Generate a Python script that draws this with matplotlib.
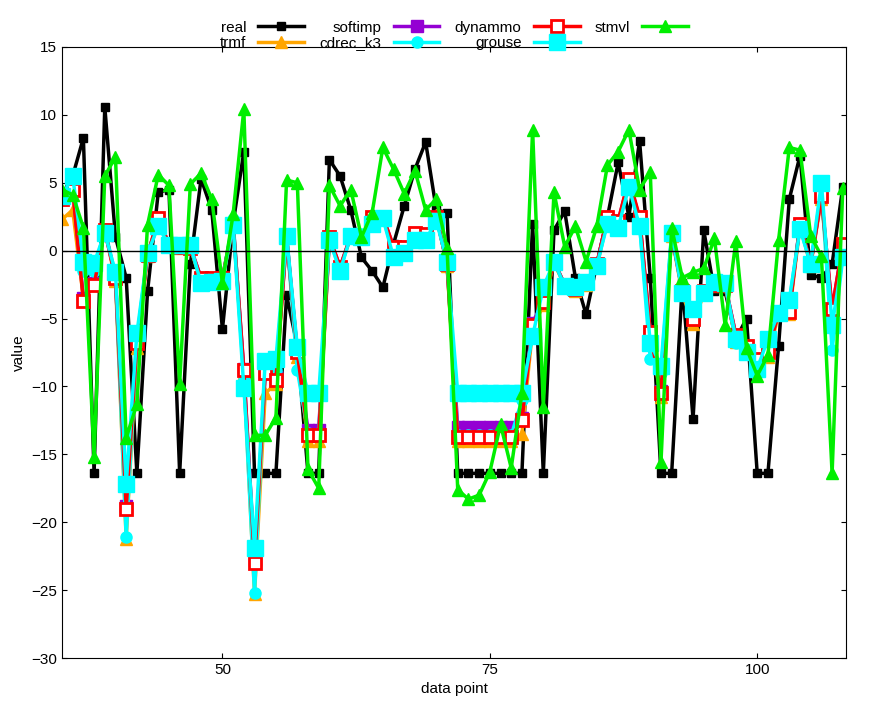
import numpy as np
import matplotlib.pyplot as plt

plt.rcParams['font.family'] = ['Liberation Sans', 'DejaVu Sans']

x = np.arange(35, 109)

real = [4.1, 5.5, 8.3, -16.4, 10.6, 1.0, -2.0, -16.4, -3.0, 4.3,
        4.5, -16.4, -1.0, 5.3, 3.0, -5.8, 2.0, 7.3, -16.4, -16.4,
        -16.4, -3.3, -7.0, -16.4, -16.4, 6.7, 5.5, 3.0, -0.5, -1.5,
        -2.7, 0.5, 3.3, 6.0, 8.0, 3.0, 2.8, -16.4, -16.4, -16.4,
        -16.4, -16.4, -16.4, -16.4, 2.0, -16.4, 1.5, 2.9, -2.0, -4.7,
        -1.0, 2.5, 6.5, 2.5, 8.1, -2.0, -16.4, -16.4, -2.4, -12.4,
        1.5, -3.0, -3.0, -6.5, -5.0, -16.4, -16.4, -7.0, 3.8, 7.0,
        -1.8, -2.0, -1.0, 4.7]

trmf = [2.3, 3.0, -3.5, -2.3, 1.5, -2.2, -21.2, -7.2, -0.4, 2.2,
        0.4, 0.2, 0.2, -2.3, -2.1, -2.1, 1.8, -9.0, -25.3, -10.5,
        -9.8, 1.0, -7.8, -14.0, -14.0, 0.9, -1.3, 1.0, 0.9, 2.3,
        2.4, 0.2, 0.2, 1.2, 1.1, 2.6, -1.1, -14.0, -14.0, -14.0,
        -14.0, -14.0, -14.0, -13.5, -5.8, -4.0, -0.9, -2.6, -3.0, -2.5,
        -1.2, 2.3, 2.0, 5.0, 2.3, -6.3, -10.8, 1.1, -3.2, -5.4,
        -3.2, -2.6, -2.6, -6.7, -7.3, -8.3, -7.8, -4.7, -4.7, 1.8,
        -1.1, 3.8, -4.6, 0.4]

softimp = [3.8, 4.6, -3.5, -2.4, 1.5, -2.0, -18.8, -6.7, -0.3, 2.3,
           0.5, 0.3, 0.3, -2.0, -2.0, -2.0, 2.0, -8.7, -22.8, -9.0,
           -9.3, 1.0, -7.4, -13.2, -13.2, 1.0, -1.2, 1.1, 1.0, 2.4,
           2.5, 0.3, 0.3, 1.3, 1.2, 2.5, -1.0, -13.0, -13.0, -13.0,
           -13.0, -13.0, -13.0, -12.3, -5.3, -3.7, -0.8, -2.5, -2.8, -2.3,
           -1.0, 2.5, 2.2, 5.2, 2.4, -6.0, -10.3, 1.2, -3.0, -5.0,
           -3.0, -2.5, -2.5, -6.2, -7.0, -8.0, -7.4, -4.5, -4.4, 2.0,
           -1.0, 4.0, -4.3, 0.5]

cdrec_k3 = [4.0, 5.3, -1.5, -1.5, 1.6, -1.8, -21.1, -6.5, -0.2, 2.1,
            0.4, 0.3, 0.3, -2.3, -2.2, -2.1, 2.3, -9.5, -25.2, -8.5,
            -8.8, 1.2, -8.8, -13.4, -13.4, 0.8, -1.4, 1.1, 1.2, 2.2,
            2.5, -0.3, 0.0, 1.0, 1.0, 2.4, -0.9, -13.6, -13.6, -13.6,
            -13.6, -13.6, -13.6, -11.0, -6.0, -3.0, -0.8, -2.6, -2.7, -2.3,
            -1.1, 2.2, 1.9, 5.2, 2.0, -8.0, -9.0, 1.3, -3.1, -4.6,
            -3.1, -2.4, -2.4, -6.8, -7.6, -8.8, -6.8, -4.6, -3.8, 1.8,
            -1.0, 4.6, -7.3, -0.5]

dynammo = [3.8, 4.5, -3.7, -2.5, 1.5, -2.0, -19.0, -6.8, -0.3, 2.4,
           0.5, 0.3, 0.2, -2.0, -2.0, -2.0, 2.0, -8.8, -23.0, -9.0,
           -9.5, 1.0, -7.5, -13.6, -13.6, 1.0, -1.2, 1.1, 1.0, 2.5,
           2.5, 0.3, 0.3, 1.3, 1.2, 2.5, -1.0, -13.7, -13.7, -13.7,
           -13.7, -13.7, -13.7, -12.5, -5.5, -3.8, -0.8, -2.5, -2.8, -2.3,
           -1.0, 2.5, 2.2, 5.3, 2.5, -6.0, -10.5, 1.2, -3.0, -5.0,
           -3.0, -2.5, -2.5, -6.2, -7.0, -8.0, -7.5, -4.5, -4.5, 2.0,
           -1.0, 4.0, -4.3, 0.5]

grouse = [4.0, 5.5, -0.8, -0.9, 1.3, -1.6, -17.2, -6.1, -0.2, 1.8,
          0.4, 0.4, 0.4, -2.4, -2.3, -2.2, 1.9, -10.1, -21.9, -8.1,
          -8.0, 1.1, -7.1, -10.5, -10.5, 0.8, -1.5, 1.1, 1.0, 2.0,
          2.4, -0.5, -0.2, 0.8, 0.8, 2.2, -0.8, -10.5, -10.5, -10.5,
          -10.5, -10.5, -10.5, -10.5, -6.3, -2.7, -0.8, -2.6, -2.7, -2.3,
          -1.1, 2.0, 1.7, 4.7, 1.8, -6.8, -8.5, 1.3, -3.1, -4.3,
          -3.1, -2.3, -2.4, -6.5, -7.5, -8.7, -6.5, -4.6, -3.6, 1.6,
          -1.0, 5.0, -5.5, -0.5]

stmvl = [4.5, 4.1, 1.7, -15.2, 5.5, 6.9, -13.8, -11.3, 1.9, 5.6,
         4.8, -9.8, 4.9, 5.7, 3.8, -2.4, 2.7, 10.4, -13.6, -13.6,
         -12.3, 5.2, 5.0, -16.1, -17.5, 4.8, 3.3, 4.5, 1.0, 2.8,
         7.6, 6.0, 4.2, 5.9, 3.0, 3.8, 0.2, -17.6, -18.3, -18.0,
         -16.3, -12.8, -16.0, -10.5, 8.9, -11.5, 4.3, 0.3, 1.8, -0.8,
         1.8, 6.3, 7.3, 8.9, 4.5, 5.8, -15.6, 1.7, -2.0, -1.6,
         -1.3, 0.9, -5.5, 0.7, -7.2, -9.2, -7.7, 0.8, 7.6, 7.4,
         1.1, -0.4, -16.4, 4.6]

series = [
    ('real', real, 'black', 's', 6, 'full'),
    ('trmf', trmf, 'orange', '^', 8, 'full'),
    ('softimp', softimp, '#9400d3', 's', 8, 'full'),
    ('cdrec_k3', cdrec_k3, 'cyan', 'o', 8, 'full'),
    ('dynammo', dynammo, 'red', 's', 8, 'none'),
    ('grouse', grouse, 'cyan', 's', 11, 'full'),
    ('stmvl', stmvl, '#00ee00', '^', 9, 'full'),
]

fig = plt.figure(figsize=(8.76, 7.2), dpi=100)
ax = fig.add_axes([62 / 876, 62 / 720, 784 / 876, 611 / 720])

for name, vals, col, mk, ms, fill in series:
    kw = dict(markerfacecolor='white', markeredgewidth=2) if fill == 'none' else {}
    ax.plot(x, vals, color=col, marker=mk, markersize=ms, linewidth=2.5,
            label=name, markeredgecolor=col, **kw)

ax.axhline(0, color='black', linewidth=1)
ax.set_xlim(35, 108.3)
ax.set_ylim(-30, 15)
ax.set_xticks([50, 75, 100])
ax.set_yticks(range(-30, 16, 5))
ax.tick_params(direction='in', top=True, right=True, labelsize=11)
ax.set_xlabel('data point', fontsize=11)
ax.set_ylabel('value', fontsize=11)

ax.legend(ncol=4, loc='lower center', bbox_to_anchor=(0.5, 0.985), frameon=False,
          markerfirst=False, fontsize=11, handlelength=3, columnspacing=1.0,
          labelspacing=0.1, borderaxespad=0)

fig.savefig('out.png')
